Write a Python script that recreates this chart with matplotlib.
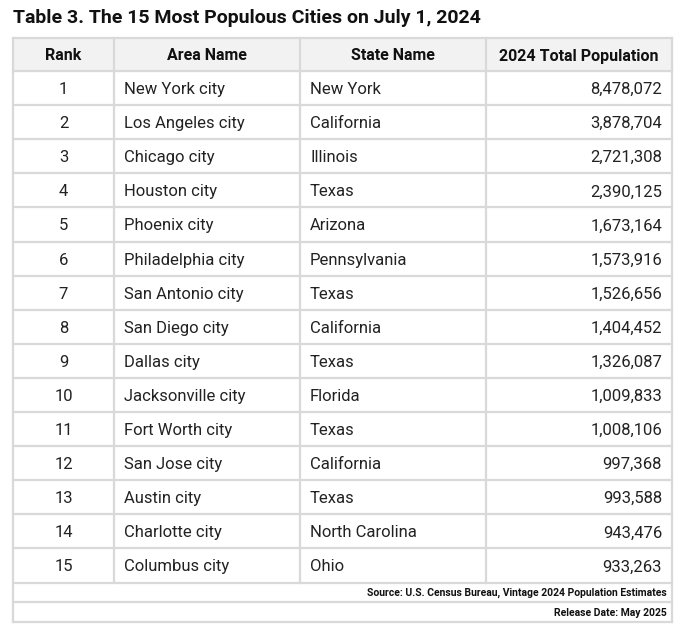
import matplotlib.pyplot as plt

plt.rcParams['font.family'] = ['Roboto', 'DejaVu Sans']

title = "Table 3. The 15 Most Populous Cities on July 1, 2024"
headers = ["Rank", "Area Name", "State Name", "2024 Total Population"]
ranks = list(range(1, 16))
areas = ["New York city", "Los Angeles city", "Chicago city", "Houston city", "Phoenix city",
         "Philadelphia city", "San Antonio city", "San Diego city", "Dallas city",
         "Jacksonville city", "Fort Worth city", "San Jose city", "Austin city",
         "Charlotte city", "Columbus city"]
states = ["New York", "California", "Illinois", "Texas", "Arizona", "Pennsylvania", "Texas",
          "California", "Texas", "Florida", "Texas", "California", "Texas",
          "North Carolina", "Ohio"]
population = [8478072, 3878704, 2721308, 2390125, 1673164, 1573916, 1526656, 1404452,
              1326087, 1009833, 1008106, 997368, 993588, 943476, 933263]
source = "Source: U.S. Census Bureau, Vintage 2024 Population Estimates"
release = "Release Date: May 2025"

W, H = 680, 633
fig = plt.figure(figsize=(W / 100, H / 100), dpi=100)
ax = fig.add_axes([0, 0, 1, 1])
ax.set_xlim(0, W)
ax.set_ylim(H, 0)
ax.axis('off')

cols = [13, 114, 300, 486, 672]
top, head_h, row_h = 38, 33, 34.1
foot_h = 19.5
gc = '#d9d9d9'
lw = 1.6
dy = 1.5

ax.text(13, 18, title, fontsize=14, fontweight='bold', va='center', ha='left', color='#111111')

ax.add_patch(plt.Rectangle((cols[0], top), cols[-1] - cols[0], head_h, color='#f2f2f2', zorder=0))
data_top = top + head_h
data_bot = data_top + row_h * len(ranks)
foot_bot = data_bot + 2 * foot_h

# horizontal lines
ys = [top, data_top] + [data_top + row_h * (i + 1) for i in range(len(ranks))] + [data_bot + foot_h, foot_bot]
for y in ys:
    ax.plot([cols[0], cols[-1]], [y, y], color=gc, lw=lw)
for x in cols:
    ax.plot([x, x], [top, foot_bot if x in (cols[0], cols[-1]) else data_bot], color=gc, lw=lw)

fs = 12
for j, h in enumerate(headers):
    ax.text((cols[j] + cols[j + 1]) / 2, top + head_h / 2 + dy, h, fontsize=11.5, fontweight='bold',
            ha='center', va='center', color='#111111')

for i in range(len(ranks)):
    yc = data_top + row_h * (i + 0.5) + dy
    ax.text((cols[0] + cols[1]) / 2, yc, str(ranks[i]), fontsize=fs, ha='center', va='center', color='#222222')
    ax.text(cols[1] + 10, yc, areas[i], fontsize=fs, ha='left', va='center', color='#222222')
    ax.text(cols[2] + 10, yc, states[i], fontsize=fs, ha='left', va='center', color='#222222')
    ax.text(cols[4] - 10, yc, f"{population[i]:,}", fontsize=fs, ha='right', va='center', color='#222222')

ax.text(cols[4] - 5, data_bot + foot_h / 2 + 1, source, fontsize=7.5, fontweight='bold', ha='right', va='center', color='#111111')
ax.text(cols[4] - 5, data_bot + foot_h * 1.5 + 1, release, fontsize=7.5, fontweight='bold', ha='right', va='center', color='#111111')

fig.savefig('out.png', dpi=100, facecolor='white')
